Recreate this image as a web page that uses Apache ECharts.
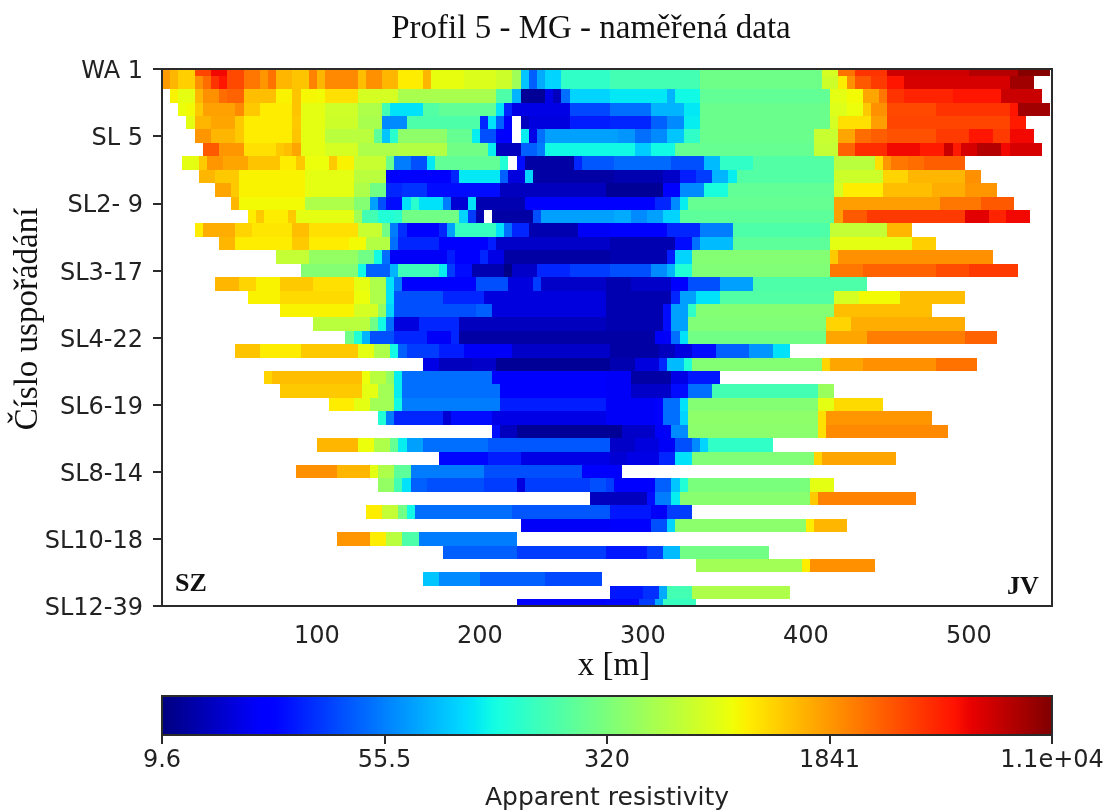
<!DOCTYPE html>
<html><head><meta charset="utf-8">
<script src="https://cdn.jsdelivr.net/npm/echarts@6/dist/echarts.min.js"></script>
<style>html,body{margin:0;padding:0;background:#fff}#c{width:1109px;height:811px}</style>
</head><body><div id="c"></div>
<script>
// each row: start x [m], then pairs of apparent resistivity, x where that reading ends (0 = missing)
const r00=[5,1841,10,1500,15,1250,25,3500,35,5500,45,3400,55,2400,65,1900,70,2500,75,1500,85,1350,95,2200,100,1500,105,2100,125,1400,130,2000,140,1500,150,1000,165,1500,170,820,192,740,210,650,220,440,225,90,230,45,235,75,240,100,250,170,280,200,335,290,410,700,420,2500,430,4000,450,6800,498,8000,529,10500,551];
const r01=[5,1841,10,1500,15,1250,25,2000,30,2600,35,4000,40,5000,45,3400,55,2400,65,1900,70,2500,75,1500,85,1350,95,2200,100,1500,105,2100,125,1400,130,2000,140,1500,150,1000,165,1500,170,820,192,740,210,650,220,440,225,90,230,45,235,75,240,100,250,170,280,200,335,290,410,650,420,1000,425,2000,430,3000,440,3800,450,5000,460,6500,527,9000,540];
const r02=[10,950,15,800,25,1500,30,2000,40,2600,45,2800,55,1400,75,950,85,1350,90,920,100,900,105,1100,125,700,150,480,210,220,220,80,225,11,240,18,245,14,250,50,255,100,280,115,315,80,320,130,335,260,417,800,427,900,437,1700,445,2400,450,4000,460,4500,490,5000,520,7000,545];
const r03=[15,850,20,900,25,1300,30,1750,50,2100,55,1300,65,1000,85,1350,90,800,105,660,125,500,141,200,145,110,165,230,175,260,210,110,215,30,220,18,255,38,280,50,307,80,325,115,335,280,417,750,427,850,435,1300,440,2000,450,3400,478,4000,525,5000,530,9000,551];
const r04=[20,800,25,1500,35,1700,50,1300,55,1000,85,1300,90,800,105,650,125,480,141,60,155,220,200,30,205,110,210,45,215,22,221,0,225,14,230,17,255,28,280,30,305,45,315,60,325,120,335,280,415,700,420,1100,440,1800,450,3500,525,4800,535];
const r05=[25,1900,35,1500,50,1300,55,1000,85,1350,90,800,105,550,135,250,140,90,145,160,150,380,180,270,195,120,200,40,210,22,221,0,225,120,230,18,235,50,240,70,285,65,295,50,305,60,315,90,325,170,335,280,407,620,420,1700,430,2600,440,2900,450,3200,478,3800,499,5000,515,3800,525,5500,540];
const r06=[30,3000,40,1900,55,1100,75,1300,80,1400,85,1700,90,800,106,700,125,500,150,520,180,300,205,120,210,14,225,45,235,55,240,130,295,95,305,130,320,270,405,600,420,2800,430,4200,450,5500,470,4800,486,7000,491,4800,495,6500,507,8000,520,5500,525,6500,545];
const r07=[17.5,800,27.5,1300,32.5,1900,42.5,1700,57.5,1350,77.5,1000,87.5,1300,92.5,850,107.5,1300,112.5,950,122.5,620,142.5,280,147.5,55,157.5,40,167.5,115,172.5,260,212.5,150,217.5,0,222.5,25,227.5,12,257.5,30,262.5,42,285,48,318,40,337.5,85,347.5,170,367.5,230,417.5,550,442.5,1100,447.5,1900,452.5,2400,462.5,2600,472.5,2900,497.5];
const r08=[27.5,1500,37.5,1300,52.5,950,92.5,800,122.5,550,142.5,22,182.5,30,187.5,115,212.5,45,217.5,17,227.5,100,232.5,12,282.5,13,315,15,322.5,28,332.5,35,342.5,80,352.5,120,357.5,230,417.5,650,447.5,1200,462.5,1500,497.5,2000,507.5];
const r09=[37.5,1700,47.5,1300,52.5,950,92.5,800,122.5,500,132.5,300,142.5,30,152.5,33,167.5,25,214,14,280,11,315,22,322.5,60,337.5,140,355,260,417.5,700,422.5,1000,447.5,1400,478,1600,497.5,1900,517.5];
const r10=[47.5,1500,52.5,900,92.5,500,122.5,350,132.5,70,137.5,40,142.5,25,152.5,110,157.5,160,162.5,110,177.5,55,182.5,16,192.5,110,197.5,13,230,22,310,30,318,60,323,120,328,270,417.5,1800,482.5,2400,507.5,3000,527.5];
const r11=[57.5,1000,62.5,1300,67.5,1000,82.5,1300,87.5,800,122.5,450,127.5,200,137.5,150,147.5,160,152.5,300,187.5,100,192.5,35,197.5,13,202.5,0,207.5,12,232.5,40,237.5,70,285,75,292.5,60,302.5,70,312.5,100,322.5,250,417.5,1800,422.5,3000,437.5,3800,497.5,6000,512.5,4500,522.5,5500,537.5];
const r12=[25,1000,30,1600,50,1200,60,1050,85,1400,95,1100,126,620,140,300,145,55,150,32,155,22,175,30,180,70,185,180,210,110,215,50,220,30,230,13,260,20,280,22,315,30,335,55,355,220,417,600,450,1500,465];
const r13=[40,1500,50,1000,85,1300,95,1000,122,900,132,520,145,50,150,30,175,22,205,28,210,15,280,13,320,25,330,50,337,85,355,250,415,800,465,1250,480];
const r14=[75,600,95,400,125,300,135,130,140,50,145,20,180,28,185,22,200,30,205,18,215,12,280,13,315,28,320,100,330,350,415,1300,422,2000,515];
const r15=[90,350,125,130,130,45,145,80,150,190,175,120,180,35,185,25,195,13,217,10,222,15,233,30,253,35,280,40,305,60,315,80,320,150,330,340,415,2400,437,2800,480,3300,500,3800,530];
const r16=[37.5,1500,52.5,1200,62.5,950,77.5,1300,97.5,1100,122.5,800,132.5,500,142.5,110,147.5,55,152.5,22,197.5,40,217.5,17,232.5,35,237.5,15,280,13,295,15,317.5,22,327.5,40,349,70,367.5,220,437.5];
const r17=[57.5,950,77.5,1150,122.5,850,132.5,500,142.5,110,147.5,40,177.5,30,202.5,17,280,13,317.5,30,322.5,70,332.5,110,347.5,230,417.5,700,432.5,900,457.5,1400,497.5];
const r18=[77.5,950,122.5,700,137.5,400,142.5,100,147.5,40,197.5,45,207.5,17,280,13,312.5,25,318,70,328,170,335,350,417.5,1400,477.5];
const r19=[97.5,550,132.5,300,137.5,130,142.5,50,147.5,17,162.5,30,187.5,14,280,13,312.5,25,318,70,328,340,415,1200,427.5,1600,497.5];
const r20=[117.5,300,122.5,150,127.5,80,132.5,40,147.5,30,167.5,20,182.5,30,187.5,12,309,20,318,50,323,110,328,300,412,1700,437.5,2300,497.5,2800,517.5];
const r21=[50,1350,65,1000,90,1300,125,800,135,500,145,130,150,45,155,35,175,28,190,20,218,15,280,12,309,14,320,17,330,25,345,45,366,65,380,110,390];
const r22=[165,18,175,14,195,15,210,11,280,13,294,17,310,30,315,85,325,150,330,350,410,1200,415,1700,433,2000,478,2500,505];
const r23=[67.5,1200,72.5,1400,127.5,850,132.5,550,142.5,400,147.5,120,152.5,50,207.5,22,280,20,292.5,12,317.5,18,327.5,27,347.5];
const r24=[77.5,1300,127.5,800,137.5,450,147.5,120,152.5,50,212.5,22,280,20,294,15,318,25,328,50,343,200,407.5,420,417.5];
const r25=[107.5,1000,122.5,800,132.5,450,147.5,130,152.5,55,212.5,28,280,20,307.5,22,312.5,50,322.5,110,327.5,350,407.5,800,417.5,1150,447.5];
const r26=[137.5,150,142.5,55,147.5,30,177.5,16,182.5,25,207.5,18,280,20,307.5,22,312.5,50,322.5,100,327.5,380,407.5,1100,412.5,1900,477.5];
const r27=[207.5,25,212.5,14,222.5,11,287.5,15,307.5,20,317.5,60,327.5,370,407.5,1100,412.5,2100,487.5];
const r28=[100,1500,125,850,135,500,145,270,150,120,155,70,165,50,205,42,280,15,294,17,310,20,320,40,330,60,335,100,340,170,380];
const r29=[175,24,205,28,225,18,280,16,288,18,310,30,320,110,328,340,405,1200,410,1700,455];
const r30=[87.5,2000,112.5,1500,132.5,800,137.5,500,147.5,250,157.5,55,202.5,40,262.5,22,287.5];
const r31=[137.5,400,147.5,200,152.5,110,157.5,45,167.5,40,202.5,35,222.5,17,227.5,35,267.5,40,280,35,284,22,309,45,318,90,323,150,328,320,405,800,417.5];
const r32=[267.5,14,303,25,308,55,318,120,323,360,403,1300,407.5,2200,467.5];
const r33=[130,1000,140,600,150,300,155,130,160,50,222,42,280,27,304,20,315,35,330];
const r34=[225,20,280,22,305,40,315,100,320,370,400,1000,405,1500,425];
const r35=[112.5,1900,132.5,1000,142.5,550,152.5,220,162.5,55,222.5];
const r36=[177.5,45,222.5,35,280,27,302.5,35,312.5,85,322.5,300,377.5];
const r37=[332.5,450,397.5,1000,402.5,2000,442.5];
const r38=[165,90,175,60,200,45,240,38,275];
const r39=[280,27,300,32,310,75,315,200,332.5,500,390];
const r40=[222.5,22,280,24,300,35,310,75,315,180,332.5];
const rows=[r00,r01,r02,r03,r04,r05,r06,r07,r08,r09,r10,r11,r12,r13,r14,r15,r16,r17,r18,r19,r20,r21,r22,r23,r24,r25,r26,r27,r28,r29,r30,r31,r32,r33,r34,r35,r36,r37,r38,r39,r40];

const yTickLabels=['WA 1','SL 5','SL2- 9','SL3-17','SL4-22','SL6-19','SL8-14','SL10-18','SL12-39'];
const xTicks=[100,200,300,400,500];
const barTicks=[0,0.25,0.5,0.75,1];
const barLabels=['9.6','55.5','320','1841','1.1e+04'];
const vMin=9.6, vMax=11000;

function lerp(pts,t){for(let i=1;i<pts.length;i++){if(t<=pts[i][0]){const a=pts[i-1],b=pts[i];return a[1]+(b[1]-a[1])*(t-a[0])/(b[0]-a[0]);}}return pts[pts.length-1][1];}
const jetR=[[0,0],[.35,0],[.66,1],[.89,1],[1,.5]];
const jetG=[[0,0],[.125,0],[.375,1],[.64,1],[.91,0],[1,0]];
const jetB=[[0,.5],[.11,1],[.34,1],[.65,0],[1,0]];
function jet(t){t=Math.max(0,Math.min(1,t));return 'rgb('+[jetR,jetG,jetB].map(p=>Math.round(255*lerp(p,t))).join(',')+')';}
function colorOf(v){return jet(Math.log(v/vMin)/Math.log(vMax/vMin));}

const cellW=5, cells=[];
rows.forEach((r,iy)=>{
  let seg=1;
  const last=r[r.length-1];
  for(let x=r[0];x+cellW/2<last;x+=cellW){
    const c=x+cellW/2;
    while(seg+1<r.length&&c>=r[seg+1])seg+=2;
    if(r[seg]>0)cells.push([x,iy,r[seg]]);
  }
});

const gridStops=[];for(let i=0;i<=100;i++)gridStops.push({offset:i/100,color:jet(i/100)});
const axisCol='#2b2b2b', tickFont={fontFamily:'DejaVu Sans',fontSize:24,color:'#222'};
const chart=echarts.init(document.getElementById('c'),null,{renderer:'canvas'});
chart.setOption({
  animation:false,backgroundColor:'#fff',
  title:{text:'Profil 5 - MG - naměřená data',left:586,top:8,textAlign:'center',textStyle:{fontFamily:'Liberation Serif',fontSize:33,fontWeight:'normal',color:'#111'}},
  grid:[{left:162,top:69,width:890,height:537,show:true,borderColor:axisCol,borderWidth:2,backgroundColor:'transparent',z:5,outerBoundsMode:'none'},
        {left:162,top:696,width:890,height:39,show:true,borderColor:axisCol,borderWidth:2,z:5,outerBoundsMode:'none'}],
  xAxis:[{type:'value',gridIndex:0,min:5,max:551,name:'x [m]',nameLocation:'middle',nameGap:44,nameMoveOverlap:false,
      nameTextStyle:{fontFamily:'Liberation Serif',fontSize:33,color:'#111',padding:[0,0,0,14]},
      splitLine:{show:false},axisLine:{lineStyle:{color:axisCol,width:2}},
      axisTick:{length:8,lineStyle:{color:axisCol,width:2},customValues:xTicks},
      axisLabel:Object.assign({customValues:xTicks,margin:19},tickFont)},
    {type:'value',gridIndex:1,min:0,max:1,name:'Apparent resistivity',nameLocation:'middle',nameGap:51,nameMoveOverlap:false,
      nameTextStyle:{fontFamily:'DejaVu Sans',fontSize:25,color:'#222'},
      splitLine:{show:false},axisLine:{lineStyle:{color:axisCol,width:2}},
      axisTick:{length:9,lineStyle:{color:axisCol,width:2},customValues:barTicks},
      axisLabel:Object.assign({customValues:barTicks,margin:14,formatter:v=>barLabels[barTicks.indexOf(v)]},tickFont)}],
  yAxis:[{type:'value',gridIndex:0,inverse:true,min:0,max:40,interval:5,name:'Číslo uspořádání',nameLocation:'middle',nameGap:117,nameMoveOverlap:false,
      nameTextStyle:{fontFamily:'Liberation Serif',fontSize:33,color:'#111',padding:[0,0,0,37]},
      splitLine:{show:false},axisLine:{show:true,lineStyle:{color:axisCol,width:2}},
      axisTick:{show:true,length:9,lineStyle:{color:axisCol,width:2}},
      axisLabel:Object.assign({margin:19,formatter:v=>'{a|'+yTickLabels[v/5]+'}',
        rich:{a:{fontFamily:'DejaVu Sans',fontSize:24,color:'#222',padding:[6,0,0,0]}}},tickFont)},
    {type:'value',gridIndex:1,min:0,max:1,show:false}],
  series:[{type:'custom',xAxisIndex:0,yAxisIndex:0,coordinateSystem:'cartesian2d',data:cells,silent:true,
      renderItem:(p,api)=>{
        const x=api.value(0),y=api.value(1),a=api.coord([x,y-.5]),b=api.coord([x+cellW,y+.5]);
        const s=echarts.graphic.clipRectByRect({x:Math.round(a[0]),y:Math.round(a[1]),width:Math.round(b[0])-Math.round(a[0]),height:Math.round(b[1])-Math.round(a[1])},
          {x:p.coordSys.x,y:p.coordSys.y,width:p.coordSys.width,height:p.coordSys.height});
        return s&&{type:'rect',shape:s,style:{fill:colorOf(api.value(2))}};
      },encode:{x:0,y:1}},
    {type:'custom',xAxisIndex:1,yAxisIndex:1,coordinateSystem:'cartesian2d',data:[[0,1]],silent:true,
      renderItem:(p,api)=>{
        const a=api.coord([0,1]),b=api.coord([1,0]);
        return {type:'rect',shape:{x:a[0],y:a[1],width:b[0]-a[0],height:b[1]-a[1]},
          style:{fill:new echarts.graphic.LinearGradient(0,0,1,0,gridStops)}};
      },encode:{x:0,y:1}}],
  graphic:[{type:'text',left:175,top:571,z:20,style:{text:'SZ',fontFamily:'Liberation Serif',fontWeight:'bold',fontSize:26,fill:'#111'}},
           {type:'text',left:1007,top:574,z:20,style:{text:'JV',fontFamily:'Liberation Serif',fontWeight:'bold',fontSize:26,fill:'#111'}}]
});
</script></body></html>
